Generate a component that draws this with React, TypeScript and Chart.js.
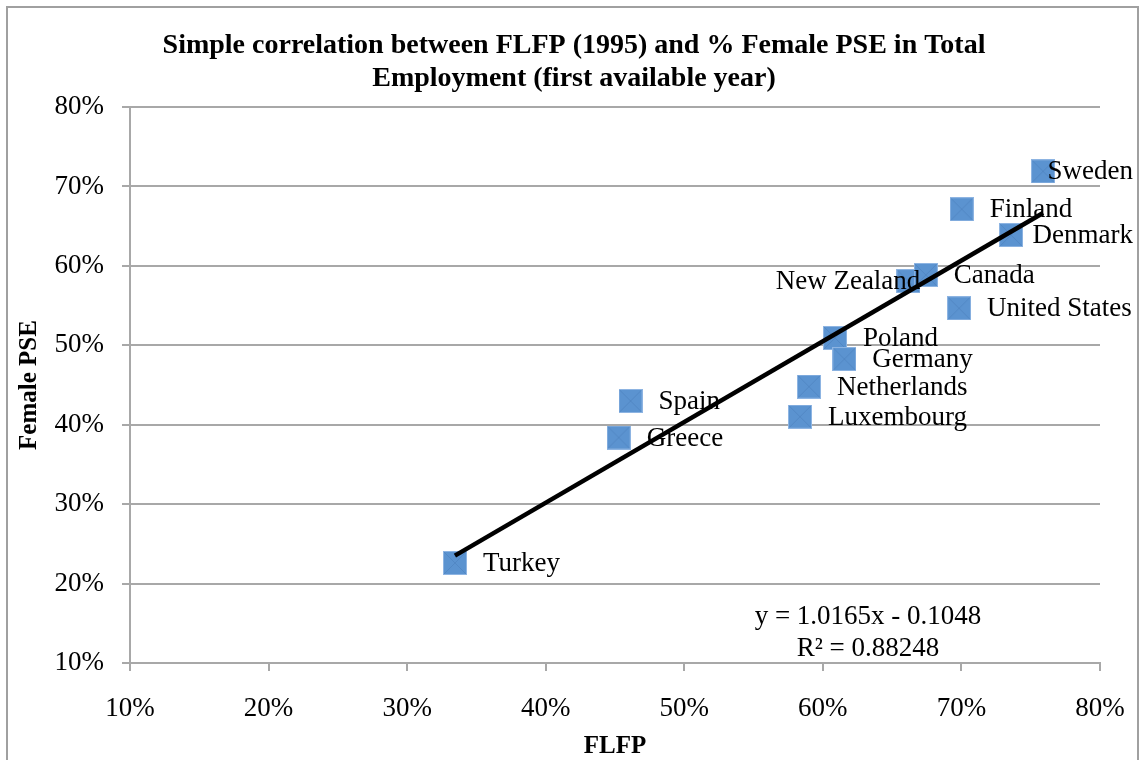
import React, { useEffect, useRef } from 'react';
import { Chart, registerables } from 'chart.js';

Chart.register(...registerables);

const countries = ['Turkey', 'Spain', 'Greece', 'Sweden', 'Finland', 'Denmark', 'New Zealand', 'Canada', 'United States', 'Poland', 'Germany', 'Netherlands', 'Luxembourg'];
const flfp = [0.3345, 0.4612, 0.4527, 0.7589, 0.7002, 0.7358, 0.6617, 0.6743, 0.6983, 0.6088, 0.6155, 0.59, 0.5835];
const femalePse = [0.2259, 0.4299, 0.3839, 0.719, 0.6713, 0.6388, 0.5809, 0.5885, 0.5466, 0.5092, 0.4827, 0.4479, 0.4101];
const trendX = [0.3345, 0.7589];
const trendY = [0.2352, 0.6666];
const xTicks = [0.1, 0.2, 0.3, 0.4, 0.5, 0.6, 0.7, 0.8];
const yTicks = [0.1, 0.2, 0.3, 0.4, 0.5, 0.6, 0.7, 0.8];
const titleLines = ['Simple correlation between FLFP (1995) and % Female PSE in Total', 'Employment (first available year)'];
const equationLines = ['y = 1.0165x - 0.1048', 'R\u00B2 = 0.88248'];
const xTitle = 'FLFP';
const yTitle = 'Female PSE';
const leftLabelled = ['New Zealand'];

const FONT = '"Liberation Serif", "Times New Roman", serif';
const GRID = '#A8A8A8';

function makeMarker(): HTMLCanvasElement {
  const c = document.createElement('canvas');
  c.width = 24;
  c.height = 24;
  const g = c.getContext('2d')!;
  g.fillStyle = '#5B93D0';
  g.fillRect(0, 0, 24, 24);
  g.strokeStyle = 'rgba(70,120,180,0.4)';
  g.lineWidth = 1;
  g.beginPath();
  g.moveTo(0, 0);
  g.lineTo(24, 24);
  g.moveTo(24, 0);
  g.lineTo(0, 24);
  g.stroke();
  g.strokeStyle = '#8DB4E2';
  g.strokeRect(0.5, 0.5, 23, 23);
  return c;
}

const overlayPlugin = {
  id: 'overlay',
  beforeDraw(chart: any) {
    const ctx = chart.ctx;
    ctx.save();
    ctx.fillStyle = '#ffffff';
    ctx.fillRect(0, 0, chart.width, chart.height);
    ctx.font = `bold 28px ${FONT}`;
    ctx.fillStyle = '#000';
    ctx.textAlign = 'center';
    ctx.textBaseline = 'middle';
    const cx = 574;
    ctx.fillText(titleLines[0], cx, 46);
    ctx.fillText(titleLines[1], cx, 79);
    ctx.restore();
  },
  afterDatasetDraw(chart: any, args: any) {
    if (args.index !== 0) return;
    const ctx = chart.ctx;
    const meta = chart.getDatasetMeta(0);
    ctx.save();
    ctx.font = `27px ${FONT}`;
    ctx.fillStyle = '#000';
    ctx.textBaseline = 'middle';
    ctx.textAlign = 'left';
    const limit = chart.width - 8;
    meta.data.forEach((pt: any, i: number) => {
      const name = countries[i];
      const w = ctx.measureText(name).width;
      let x: number;
      if (leftLabelled.includes(name)) {
        x = pt.x + 12 - w;
      } else {
        x = pt.x + 28;
        if (x + w > limit) x = limit - w;
      }
      ctx.fillText(name, x, pt.y + 1);
    });
    ctx.restore();
  },
  afterDraw(chart: any) {
    const ctx = chart.ctx;
    const area = chart.chartArea;
    ctx.save();
    ctx.font = `27px ${FONT}`;
    ctx.fillStyle = '#000';
    ctx.textAlign = 'center';
    ctx.textBaseline = 'middle';
    const cx = area.right - 232;
    ctx.fillText(equationLines[0], cx, area.bottom - 46);
    ctx.fillText(equationLines[1], cx, area.bottom - 14);
    ctx.strokeStyle = '#A0A0A0';
    ctx.lineWidth = 2;
    ctx.strokeRect(7, 7, chart.width - 10, chart.height + 20);
    ctx.restore();
  },
};

export default function App() {
  const ref = useRef<HTMLCanvasElement | null>(null);

  useEffect(() => {
    if (!ref.current) return;
    const marker = makeMarker();
    const points = flfp.map((x, i) => ({ x, y: femalePse[i] }));
    const trend = trendX.map((x, i) => ({ x, y: trendY[i] }));
    const pct = (v: any) => `${Math.round(Number(v) * 100)}%`;

    const chart = new Chart(ref.current, {
      type: 'scatter',
      data: {
        datasets: [
          {
            label: 'Female PSE',
            data: points,
            pointStyle: marker as any,
            pointRadius: 12,
            order: 2,
          },
          {
            label: 'Linear',
            data: trend,
            showLine: true,
            borderColor: '#000',
            borderWidth: 4.5,
            pointRadius: 0,
            order: 1,
          } as any,
        ],
      },
      options: {
        animation: false,
        responsive: false,
        layout: { padding: { left: 0, right: 41, top: 107, bottom: 0 } },
        plugins: {
          legend: { display: false },
          tooltip: { enabled: false },
          title: { display: false },
        },
        scales: {
          x: {
            type: 'linear',
            min: 0.1,
            max: 0.8,
            afterBuildTicks: (s: any) => {
              s.ticks = xTicks.map((v) => ({ value: v }));
            },
            afterFit: (s: any) => {
              s.height = 97;
              s.paddingLeft = 0;
              s.paddingRight = 0;
            },
            ticks: {
              callback: pct,
              color: '#000',
              font: { family: FONT, size: 27 },
              padding: 22,
            },
            grid: { drawOnChartArea: false, drawTicks: true, tickLength: 8, color: GRID, lineWidth: 2 },
            border: { display: true, color: GRID, width: 2 },
            title: {
              display: true,
              text: xTitle,
              color: '#000',
              font: { family: FONT, size: 25, weight: 'bold', lineHeight: 1.1 },
              padding: { top: 0, bottom: 0 },
            },
          },
          y: {
            type: 'linear',
            min: 0.1,
            max: 0.8,
            afterBuildTicks: (s: any) => {
              s.ticks = yTicks.map((v) => ({ value: v }));
            },
            afterFit: (s: any) => {
              s.width = 130;
            },
            ticks: {
              callback: pct,
              color: '#000',
              font: { family: FONT, size: 27 },
              padding: 18,
            },
            grid: { drawOnChartArea: true, drawTicks: true, tickLength: 8, color: GRID, lineWidth: 2 },
            border: { display: true, color: GRID, width: 2 },
            title: {
              display: true,
              text: yTitle,
              color: '#000',
              font: { family: FONT, size: 25, weight: 'bold', lineHeight: 1.2 },
              padding: { top: 15, bottom: 0 },
            },
          },
        },
      },
      plugins: [overlayPlugin],
    });
    return () => chart.destroy();
  }, []);

  return (
    <div style={{ position: 'absolute', left: 0, top: 0, width: 1141, height: 760 }}>
      <canvas ref={ref} width={1141} height={760} />
    </div>
  );
}
